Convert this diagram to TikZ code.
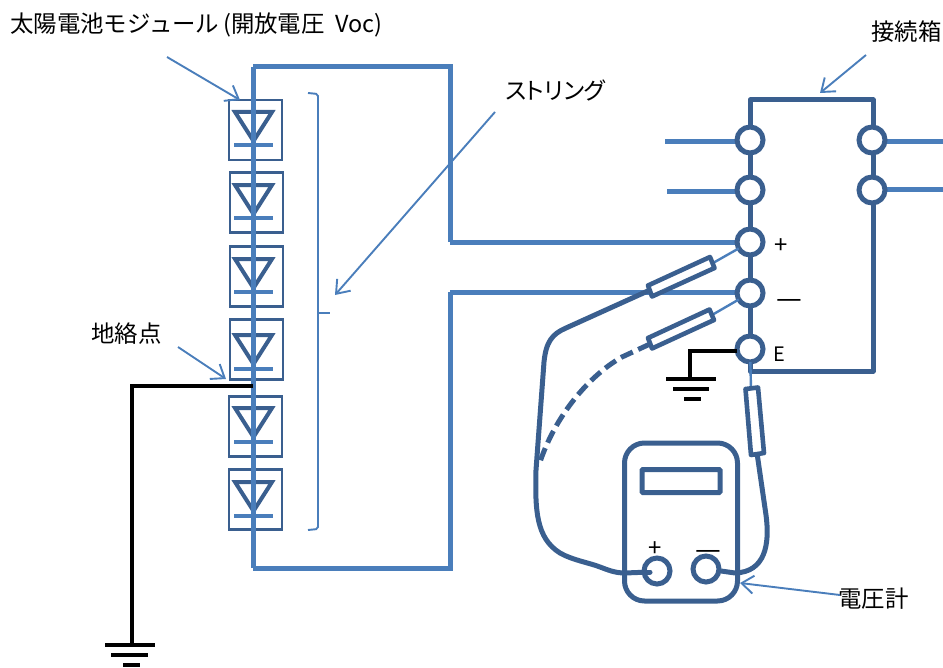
\documentclass[tikz,border=0pt]{standalone}
\usepackage{fontspec}
\usetikzlibrary{arrows.meta,calc}
\newfontfamily\jpf[RawFeature=+palt]{Noto Sans CJK JP}
\newfontfamily\jpw{Noto Sans CJK JP}
\definecolor{wireb}{HTML}{4A7EBB}
\definecolor{darkb}{HTML}{3A5F8F}
\tikzset{
 wire/.style={draw=wireb,line width=5bp},
 dline/.style={draw=darkb,line width=5bp,line join=round},
 thin wire/.style={draw=wireb,line width=2.4bp},
 callout/.style={draw=wireb,line width=1.9bp,-{Straight Barb[length=12pt,width=18pt,line width=1.9bp]}},
 gnd/.style={draw=black,line width=3.8bp},
 modbox/.style={draw=darkb,line width=2.6bp,minimum width=53bp,minimum height=60bp,inner sep=0pt,outer sep=0pt,anchor=north west},
 term/.style={circle,draw=darkb,fill=white,line width=5bp,minimum size=26bp,inner sep=0pt,outer sep=0pt},
 lbl/.style={font=\jpf\fontsize{23.5}{24}\selectfont,inner sep=0pt,text=black},
 sgn/.style={font=\jpf\fontsize{24}{24}\selectfont,inner sep=0pt,text=black},
 sgnm/.style={font=\jpf\fontsize{29}{29}\selectfont,inner sep=0pt,text=black},
 sgne/.style={font=\jpf\fontsize{20}{20}\selectfont,inner sep=0pt,text=black},
 probe/.style={draw=darkb,fill=white,line width=4.6bp,line join=round},
}
\newcommand{\diode}[2]{% top-of-triangle y, bar y
 \draw[darkb,line width=4bp,line join=miter] (235,#1) -- (272,#1) -- (253.5,#1+29) -- cycle;
 \draw[wireb,line width=3.8bp] (234,#2) -- (273,#2);}
\begin{document}
\begin{tikzpicture}[x=1bp,y=-1bp]
\useasboundingbox (0,0) rectangle (943,668);
% module boxes
\node[modbox] (m1) at (229,100) {};
\node[modbox] (m2) at (230,172.5) {};
\node[modbox] (m3) at (230,246.5) {};
\node[modbox] (m4) at (230,319.5) {};
\node[modbox] (m5) at (229,396.5) {};
\node[modbox] (m6) at (229,469.5) {};
\diode{112}{145}\diode{185}{218}\diode{259}{292}\diode{335}{369}\diode{408}{442}\diode{482}{516}
% string wiring
\coordinate (tl) at (253.5,67); \coordinate (tr) at (450,67);
\coordinate (bl) at (253.5,568); \coordinate (br) at (450,568);
\draw[wire] (tl) -- (bl);
\draw[wire] (253,67) -- (tr) -- (450,242);
\draw[wire] (253,568) -- (br) -- (450,292);
% bracket
\coordinate (bt) at (308,93); \coordinate (bb) at (308,530); \coordinate (bm) at (330,313);
\draw[wireb,line width=1.9bp,rounded corners=2pt] (bt) -- (318,94) -- (318,529) -- (bb);
\draw[wireb,line width=1.9bp] (318,313) -- (bm);
% junction box
\coordinate (j1) at (750,100); \coordinate (j2) at (873,100); \coordinate (j3) at (873,371); \coordinate (j4) at (750,371);
\draw[dline] (j4) -- (j1) -- (j2) -- (j3) -- cycle;
% incoming wires
\coordinate (w1) at (665,142); \coordinate (w2) at (667,191);
\coordinate (w3) at (943,142); \coordinate (w4) at (943,189);
\draw[wire] (w1) -- (750,142);
\draw[wire] (w2) -- (750,191);
\draw[wire] (872,142) -- (w3);
\draw[wire] (872,189) -- (w4);
\draw[wire] (450,242) -- (750,242);
\draw[wire] (450,292) -- (750,292);
% terminals
\node[term] (a1) at (750,140) {};
\node[term] (a2) at (750,190) {};
\node[term] (a3) at (750,242) {};
\node[term] (a4) at (750,293) {};
\node[term] (a5) at (750,349) {};
\node[term] (b1) at (872,140) {};
\node[term] (b2) at (872,190) {};
\node[sgn] (sp) at (781,246) {+};
\node[sgnm] (sm) at (789,304) {—};
\node[sgne] (se) at (779,354) {E};
% enclosure ground
\coordinate (g1) at (690,351);
\draw[gnd] (a5.west |- g1) -- (g1) -- (690,379);
\draw[gnd,line width=3.2bp] (666,379) -- (716,379);
\draw[gnd] (673,389) -- (709,389);
\draw[gnd,line width=4bp] (684,399) -- (701,399);
% earth fault ground
\coordinate (f1) at (253,386); \coordinate (f2) at (132,386); \coordinate (f3) at (132,645);
\draw[gnd] (f1) -- (f2) -- (f3);
\draw[gnd,line width=3.2bp] (105,645) -- (155,645);
\draw[gnd] (111,655) -- (148,655);
\draw[gnd,line width=4bp] (123,665) -- (140,665);
% voltmeter
\node[draw=darkb,line width=5bp,rounded corners=20bp,minimum width=113bp,minimum height=158bp,inner sep=0pt] (vm) at (681,522) {};
\node[draw=darkb,line width=5bp,rounded corners=1pt,minimum width=78bp,minimum height=23bp,inner sep=0pt] (scr) at (681,481) {};
% leads
\draw[thin wire] (a3) -- (713,263);
\draw[thin wire] (a4) -- (712,315);
\draw[thin wire] (a5) -- (751,388);
\draw[dline] (650,290) -- (566,328) .. controls (552,334) and (546,342) .. (544,362) -- (536,470) .. controls (535,510) and (536,538) .. (560,553) .. controls (572,560) and (590,563) .. (600,567) .. controls (608,570) and (615,573) .. (625,573) -- (650,572);
\draw[dline,dash pattern=on 13bp off 6bp] (650,344) -- (622,357) .. controls (590,375) and (555,415) .. (539,465);
\draw[dline] (757,453) -- (766,515) .. controls (770,545) and (765,572) .. (735,573) -- (721,571);
% probes
\draw[probe] (648,285.5) -- (710,257) -- (714.5,268) -- (652,296.5) -- cycle;
\draw[probe] (648,338) -- (709.5,309.5) -- (714,320) -- (652,348.5) -- cycle;
\draw[probe] (745.5,389) -- (758,387.5) -- (764,453) -- (751,455) -- cycle;
% meter terminals
\node[term] (vp) at (657,571) {};
\node[term] (vn) at (706,569) {};
\draw[dline,line cap=round] (641,572) -- (650,572);
\node[sgn] (vps) at (655,549) {+};
\node[sgnm] (vns) at (708,555) {—};
% labels and callouts
\node[lbl,anchor=west] (lt) at (10,25) {\jpw 太陽電池モジュール\hspace{4pt}(開放電圧\hspace{5pt} Voc)};
\node[lbl,anchor=west] (ls) at (505,90) {ストリング};
\node[lbl,anchor=west] (lj) at (871,32) {接続箱};
\node[lbl,anchor=west] (lf) at (91,334) {地絡点};
\node[lbl,anchor=west] (lv) at (838,599) {電圧計};
\coordinate (c1) at (167,57); \coordinate (c1e) at (240,100);
\coordinate (c2) at (495,112); \coordinate (c2e) at (335,295);
\coordinate (c3) at (866,55); \coordinate (c3e) at (820,93);
\coordinate (c4) at (178,347); \coordinate (c4e) at (226,379);
\coordinate (c5) at (840,595); \coordinate (c5e) at (740,583);
\draw[callout] (c1) -- (c1e);
\draw[callout] (c2) -- (c2e);
\draw[callout] (c3) -- (c3e);
\draw[callout] (c4) -- (c4e);
\draw[callout] (c5) -- (c5e);
\end{tikzpicture}
\end{document}
